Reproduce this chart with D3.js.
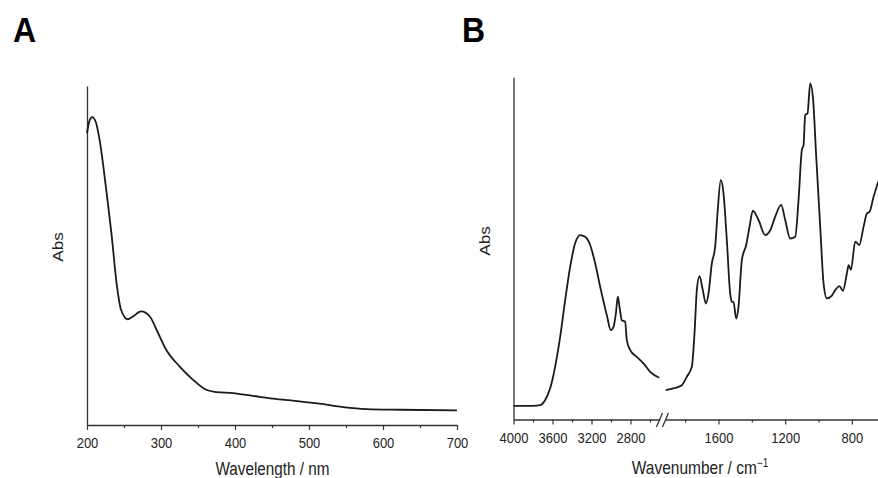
<!DOCTYPE html>
<html>
<head>
<meta charset="utf-8">
<script src="https://cdn.jsdelivr.net/npm/d3@7"></script>
<style>
  html, body { margin: 0; padding: 0; background: #fff; }
  svg { display: block; font-family: "Liberation Sans", Arial, sans-serif; }
</style>
</head>
<body>
<div id="chart"></div>
<script>
// UV-vis spectrum (panel A)
const uvWavelength = [200, 203, 207, 212, 217, 226, 233, 240, 246, 255, 262, 273, 285, 294, 307, 325, 343, 361, 375, 397, 424, 451, 487, 514, 546, 578, 623, 700];
const uvAbs = [0.861, 0.895, 0.908, 0.893, 0.841, 0.694, 0.566, 0.418, 0.340, 0.312, 0.320, 0.335, 0.320, 0.281, 0.222, 0.173, 0.134, 0.104, 0.097, 0.094, 0.086, 0.078, 0.070, 0.063, 0.053, 0.047, 0.045, 0.043];
const uvTicks = [200, 300, 400, 500, 600, 700];
const uvMinorTicks = [250, 350, 450, 550, 650];

// IR spectrum (panel B), high-wavenumber part before the axis break
const irWnHigh = [4000, 3800, 3726, 3675, 3624, 3573, 3521, 3470, 3419, 3368, 3316, 3265, 3214, 3162, 3111, 3043, 3002, 2974, 2950, 2930, 2913, 2889, 2872, 2855, 2838, 2803, 2735, 2667, 2598, 2506];
const irAbsHigh = [0.040, 0.040, 0.042, 0.057, 0.091, 0.154, 0.242, 0.349, 0.446, 0.515, 0.539, 0.534, 0.510, 0.456, 0.388, 0.305, 0.261, 0.271, 0.310, 0.359, 0.330, 0.290, 0.288, 0.286, 0.232, 0.203, 0.183, 0.164, 0.139, 0.122];
// fingerprint part after the break
const irWnLow = [1916, 1870, 1820, 1790, 1760, 1744, 1730, 1714, 1694, 1676, 1660, 1640, 1620, 1606, 1586, 1570, 1550, 1530, 1520, 1510, 1494, 1480, 1460, 1434, 1414, 1394, 1360, 1320, 1290, 1260, 1224, 1200, 1170, 1140, 1120, 1100, 1090, 1080, 1066, 1050, 1034, 1014, 990, 970, 950, 920, 900, 874, 854, 830, 820, 806, 780, 756, 730, 710, 694, 670, 642];
const irAbsLow = [0.086, 0.091, 0.100, 0.125, 0.154, 0.251, 0.378, 0.419, 0.378, 0.339, 0.368, 0.456, 0.505, 0.602, 0.700, 0.661, 0.524, 0.368, 0.344, 0.344, 0.295, 0.330, 0.466, 0.510, 0.563, 0.610, 0.583, 0.539, 0.553, 0.593, 0.627, 0.583, 0.529, 0.534, 0.641, 0.788, 0.802, 0.890, 0.895, 0.982, 0.943, 0.768, 0.563, 0.398, 0.354, 0.362, 0.378, 0.390, 0.376, 0.427, 0.451, 0.437, 0.520, 0.510, 0.563, 0.602, 0.607, 0.651, 0.695];
const irTicksHigh = [4000, 3600, 3200, 2800];
const irMinorHigh = [3800, 3400, 3000, 2600];
const irTicksLow = [1600, 1200, 800];
const irMinorLow = [1800, 1400, 1000];

const W = 878, H = 478;
const ink = '#1a1a1a';
const axisInk = '#333';
const stretch = 1.15;

const svg = d3.select('#chart').append('svg')
  .attr('width', W)
  .attr('height', H);

function styleAxis(g, fontSize) {
  g.attr('font-family', null).attr('font-size', null);
  g.select('.domain').attr('stroke', axisInk).attr('stroke-width', 1.3);
  g.selectAll('.tick line').attr('stroke', axisInk).attr('stroke-width', 1.2);
  g.selectAll('.tick text')
    .attr('y', null).attr('dy', null)
    .attr('transform', `translate(0,23) scale(1,${stretch})`)
    .attr('fill', '#222')
    .style('font-size', fontSize + 'px');
}

function bottomAxis(scale, y, major, minor) {
  svg.append('g')
    .attr('transform', `translate(0,${y})`)
    .call(d3.axisBottom(scale).tickValues(minor).tickSize(3).tickSizeOuter(0).tickFormat(''))
    .call(g => g.select('.domain').remove())
    .selectAll('line').attr('stroke', axisInk).attr('stroke-width', 1.2);
  svg.append('g')
    .attr('transform', `translate(0,${y})`)
    .call(d3.axisBottom(scale).tickValues(major).tickSize(5).tickSizeOuter(0).tickFormat(d3.format('d')))
    .call(g => styleAxis(g, 13));
}

function leftLine(x, scale) {
  svg.append('g')
    .attr('transform', `translate(${x},0)`)
    .call(d3.axisLeft(scale).tickValues([]).tickSizeOuter(0))
    .call(g => g.select('.domain').attr('stroke', axisInk).attr('stroke-width', 1.3));
}

function text(x, y, str, size, opts = {}) {
  return svg.append('text')
    .attr('transform', `translate(${x},${y}) ${opts.rotate ? 'rotate(-90) scale(' + opts.sy + ',1)' : 'scale(1,' + (opts.sy || stretch) + ')'}`)
    .attr('text-anchor', opts.anchor || 'middle')
    .attr('fill', opts.bold ? '#000' : '#222')
    .style('font-size', size + 'px')
    .style('font-weight', opts.bold ? 'bold' : 'normal')
    .text(str);
}

// ---------- Panel A ----------
const xA = d3.scaleLinear().domain([200, 700]).range([87, 457]);
const yA = d3.scaleLinear().domain([0, 1]).range([425, 86]);

leftLine(87, yA);
bottomAxis(xA, 425, uvTicks, uvMinorTicks);

const lineA = d3.line()
  .x(d => xA(d[0]))
  .y(d => yA(d[1]))
  .curve(d3.curveMonotoneX);

svg.append('path')
  .datum(d3.zip(uvWavelength, uvAbs))
  .attr('d', lineA)
  .attr('fill', 'none')
  .attr('stroke', ink)
  .attr('stroke-width', 1.8)
  .attr('stroke-linejoin', 'round');

text(13, 42, 'A', 32, { anchor: 'start', bold: true, sy: 1.08 });
text(272.5, 475, 'Wavelength / nm', 15.3, { sy: 1.18 });
text(63, 247, 'Abs', 15, { rotate: true, sy: 1.15 });

// ---------- Panel B ----------
const xBH = d3.scaleLinear().domain([4000, 2500]).range([513.5, 659.75]);
const xBL = d3.scaleLinear().domain([1920, 640]).range([665.14, 878.58]);
const yB = d3.scaleLinear().domain([0, 1]).range([419.5, 77.3]);

leftLine(513.5, yB);
bottomAxis(xBH, 419.5, irTicksHigh, irMinorHigh);
bottomAxis(xBL, 419.5, irTicksLow, irMinorLow);

// axis break marks
const breakX = (xBH(2500) + xBL(1920)) / 2;
[-3, 3].forEach(off => {
  svg.append('line')
    .attr('x1', breakX + off - 3).attr('y1', 427)
    .attr('x2', breakX + off + 3).attr('y2', 413)
    .attr('stroke', axisInk)
    .attr('stroke-width', 1.3);
});

const lineBH = d3.line().x(d => xBH(d[0])).y(d => yB(d[1])).curve(d3.curveMonotoneX);
const lineBL = d3.line().x(d => xBL(d[0])).y(d => yB(d[1])).curve(d3.curveMonotoneX);

svg.append('path')
  .datum(d3.zip(irWnHigh, irAbsHigh))
  .attr('d', lineBH)
  .attr('fill', 'none')
  .attr('stroke', ink)
  .attr('stroke-width', 1.8)
  .attr('stroke-linejoin', 'round');

svg.append('path')
  .datum(d3.zip(irWnLow, irAbsLow))
  .attr('d', lineBL)
  .attr('fill', 'none')
  .attr('stroke', ink)
  .attr('stroke-width', 1.8)
  .attr('stroke-linejoin', 'round');

text(462, 42, 'B', 32, { anchor: 'start', bold: true, sy: 1.08 });
text(490, 241, 'Abs', 15, { rotate: true, sy: 1.15 });

const xt = text(700, 474, 'Wavenumber / cm', 15.5, { sy: 1.2 });
xt.append('tspan')
  .attr('dy', -6)
  .style('font-size', '10px')
  .text('\u22121');
</script>
</body>
</html>
